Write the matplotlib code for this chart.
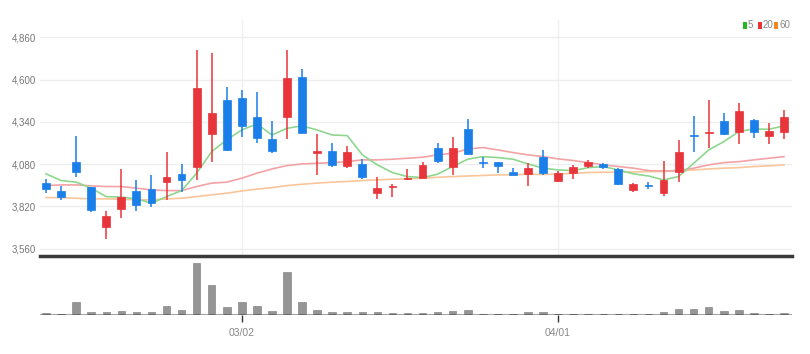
import matplotlib
matplotlib.use('Agg')
import numpy as np
import matplotlib.pyplot as plt
from matplotlib.patches import Rectangle

plt.rcParams['font.family'] = ['Liberation Sans', 'DejaVu Sans']

# daily candles (price in KRW)
opens = [3963, 3917, 4092, 3942, 3692, 3803, 3915, 3926, 3969, 4018,
         4061, 4266, 4475, 4485, 4372, 4233, 4372, 4614, 4147, 4163,
         4071, 4081, 3901, 3942, 3987, 3997, 4178, 4065, 4296, 4095,
         4093, 4030, 4020, 4126, 3979, 4028, 4069, 4079, 4050, 3921,
         3952, 3905, 4034, 4259, 4270, 4346, 4280, 4352, 4255, 4276]
closes = [3926, 3880, 4034, 3798, 3761, 3880, 3829, 3840, 4001, 3981,
          4546, 4393, 4167, 4315, 4243, 4163, 4608, 4274, 4161, 4075,
          4157, 3999, 3936, 3948, 3997, 4075, 4102, 4178, 4143, 4089,
          4071, 4014, 4055, 4024, 4024, 4065, 4093, 4061, 3956, 3958,
          3946, 3983, 4153, 4251, 4278, 4264, 4407, 4276, 4284, 4372]
highs = [3987, 3948, 4253, 3942, 3792, 4049, 3983, 4012, 4157, 4079,
         4782, 4762, 4556, 4536, 4522, 4346, 4782, 4663, 4264, 4208,
         4194, 4110, 4003, 3956, 4050, 4095, 4208, 4245, 4358, 4126,
         4093, 4058, 4089, 4167, 4040, 4075, 4106, 4085, 4055, 3963,
         3969, 4100, 4229, 4376, 4475, 4397, 4454, 4356, 4335, 4413]
lows = [3901, 3860, 4003, 3788, 3620, 3747, 3792, 3819, 3860, 3911,
        3983, 4095, 4161, 4249, 4208, 4147, 4235, 4270, 4014, 4061,
        4055, 3987, 3864, 3876, 3983, 3993, 4089, 4014, 4137, 4055,
        4028, 4014, 3948, 4014, 3972, 3987, 4055, 4052, 3952, 3907,
        3927, 3886, 3969, 4153, 4178, 4259, 4202, 4243, 4204, 4233]

# moving averages as drawn on the chart
ma5 = [4020, 3979, 3969, 3932, 3880, 3877, 3866, 3840, 3880, 3917,
       4024, 4157, 4229, 4290, 4327, 4259, 4300, 4315, 4290, 4259,
       4255, 4137, 4075, 4028, 4003, 3997, 4018, 4065, 4110, 4126,
       4120, 4110, 4081, 4055, 4044, 4040, 4058, 4065, 4044, 4020,
       4007, 3983, 4003, 4085, 4167, 4218, 4280, 4296, 4294, 4315]
ma20 = [3948, 3952, 3952, 3946, 3942, 3942, 3932, 3921, 3917, 3917,
        3942, 3963, 3969, 3993, 4024, 4050, 4071, 4081, 4085, 4089,
        4095, 4106, 4106, 4110, 4116, 4122, 4137, 4147, 4172, 4182,
        4167, 4151, 4137, 4126, 4112, 4102, 4089, 4075, 4065, 4055,
        4040, 4038, 4040, 4055, 4075, 4089, 4095, 4106, 4116, 4126]
ma60 = [3874, 3874, 3870, 3866, 3866, 3864, 3860, 3860, 3866, 3870,
        3880, 3891, 3901, 3915, 3926, 3935, 3948, 3956, 3963, 3969,
        3973, 3979, 3983, 3987, 3989, 3993, 3999, 4003, 4007, 4010,
        4014, 4014, 4018, 4016, 4018, 4024, 4028, 4030, 4030, 4032,
        4034, 4034, 4038, 4044, 4050, 4055, 4058, 4065, 4069, 4075]

# volume (thousand shares)
volumes = [1.7, 1.3, 12.7, 3.0, 2.7, 4.0, 2.7, 3.0, 9.3, 4.7,
           52.3, 30.0, 8.3, 12.7, 9.3, 4.0, 42.7, 12.7, 4.7, 3.0,
           3.0, 2.7, 3.0, 2.3, 2.3, 2.3, 3.0, 4.3, 5.0, 1.3,
           1.3, 1.3, 2.7, 2.7, 1.3, 1.3, 1.3, 1.0, 1.3, 1.3,
           0.5, 3.0, 6.0, 6.0, 7.7, 4.0, 4.7, 2.3, 1.3, 2.3]

price_ticks = [3560, 3820, 4080, 4340, 4600, 4860]
date_ticks = [13, 34]
date_labels = ['03/02', '04/01']

UP = '#e8343b'
DOWN = '#1a7fe8'
W, H = 810, 354

fig = plt.figure(figsize=(W / 100, H / 100), dpi=100)
ax = fig.add_axes([40 / W, (H - 255) / H, 752 / W, 235 / H])
vax = fig.add_axes([40 / W, (H - 315) / H, 752 / W, 59 / H])

n = len(opens)
x = np.arange(n)

for i in x:
    o, c = opens[i], closes[i]
    col = UP if c >= o else DOWN
    ax.vlines(i, lows[i], highs[i], color=col, lw=1.1, zorder=3)
    bot = min(o, c)
    h = max(abs(c - o), 6)
    ax.add_patch(Rectangle((i - 0.26, bot), 0.52, h, facecolor=col,
                           edgecolor=col, lw=0.5, zorder=4))

ax.plot(x, ma60, color='#f9c59a', lw=1.2, zorder=2)
ax.plot(x, ma20, color='#f3a3a6', lw=1.2, zorder=2)
ax.plot(x, ma5, color='#8fd68f', lw=1.2, zorder=2)

ax.set_xlim(-0.4, 49.53)
ax.set_ylim(3521, 4966)
ax.set_yticks(price_ticks)
ax.set_yticklabels([f'{v:,}' for v in price_ticks])
ax.tick_params(axis='y', length=0, pad=3, labelsize=7, labelcolor='#777777')
ax.set_xticks([])
for v in price_ticks:
    ax.axhline(v, color='#eeeeee', lw=1, zorder=0)
for d in date_ticks:
    ax.axvline(d, color='#f0f0f0', lw=1, zorder=0)
for s in ax.spines.values():
    s.set_visible(False)

# legend
lx = [743, 758, 774]
lab = ['5', '20', '60']
lcol = ['#22b822', '#ee3333', '#f5891f']
for px, t, c in zip(lx, lab, lcol):
    fig.add_artist(Rectangle((px / W, (H - 29) / H), 4 / W, 7 / H,
                             facecolor=c, edgecolor='none',
                             transform=fig.transFigure))
    fig.text((px + 5) / W, (H - 25.5) / H, t, fontsize=7,
             color='#888888', va='center', ha='left')

# volume
vax.bar(x, volumes, width=0.5, color='#959595', edgecolor='#888888', lw=0.5)
vax.axhline(0, color='#a5a5a5', lw=1.5)
vax.hlines(np.zeros(n), x - 0.25, x + 0.25, color='#555555', lw=1.8)
vax.set_xlim(-0.4, 49.53)
vax.set_ylim(0, 59)
vax.set_yticks([])
vax.set_xticks(date_ticks)
vax.set_xticklabels(date_labels)
vax.tick_params(axis='x', length=5, width=1, color='#333333', direction='out',
                labelsize=7.5, labelcolor='#888888', pad=4)
for k in ['left', 'right', 'bottom']:
    vax.spines[k].set_visible(False)
vax.spines['top'].set_color('#3a3a3a')
vax.spines['top'].set_linewidth(2.5)

fig.savefig('out.png', dpi=100)
